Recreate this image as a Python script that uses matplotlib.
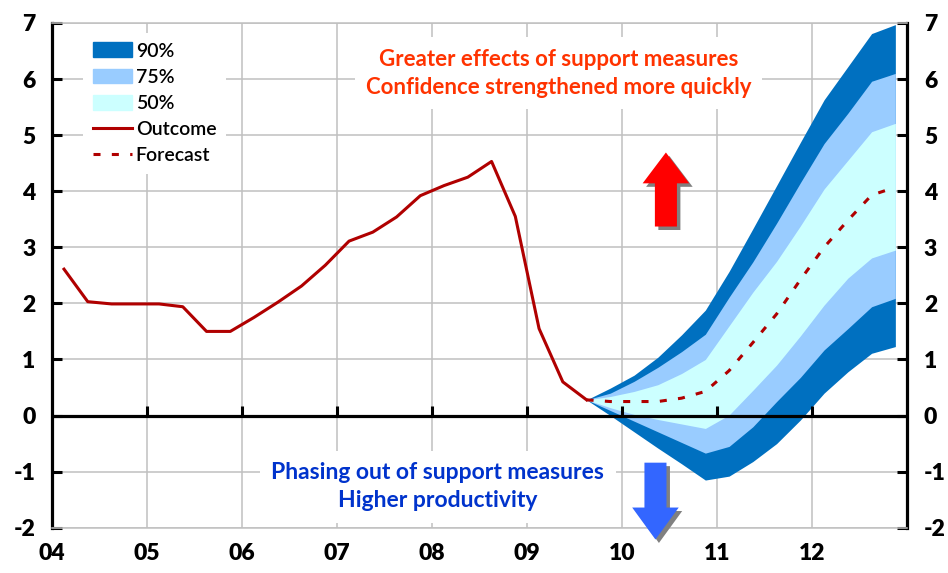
import numpy as np
from matplotlib import pyplot as plt
from matplotlib.patches import Patch, Polygon
from matplotlib.lines import Line2D
import matplotlib.patheffects as pe

plt.rcParams['font.family'] = ['Lato', 'DejaVu Sans']
plt.rcParams['axes.unicode_minus'] = False

# quarterly values, first outcome quarter is 2004Q1, forecast starts 2009Q3
outcome = [2.61, 2.03, 1.99, 1.99, 1.99, 1.94, 1.50, 1.50,
           1.75, 2.02, 2.31, 2.68, 3.11, 3.27, 3.54, 3.92,
           4.10, 4.25, 4.53, 3.55, 1.55, 0.60, 0.28]
forecast = [0.28, 0.25, 0.25, 0.25, 0.31, 0.43, 0.80, 1.30, 1.81, 2.42, 3.00, 3.48, 3.93, 4.07]
upper_90 = [0.28, 0.49, 0.72, 1.04, 1.44, 1.88, 2.57, 3.33, 4.10, 4.87, 5.63, 6.22, 6.81, 6.97]
upper_75 = [0.28, 0.40, 0.61, 0.86, 1.14, 1.45, 2.11, 2.74, 3.43, 4.15, 4.85, 5.39, 5.96, 6.10]
upper_50 = [0.28, 0.34, 0.43, 0.55, 0.75, 1.00, 1.60, 2.20, 2.75, 3.38, 4.04, 4.55, 5.06, 5.21]
lower_50 = [0.28, 0.14, 0.02, -0.07, -0.15, -0.23, 0.01, 0.45, 0.90, 1.42, 1.97, 2.45, 2.81, 2.95]
lower_75 = [0.28, 0.09, -0.10, -0.29, -0.48, -0.67, -0.55, -0.20, 0.25, 0.68, 1.17, 1.55, 1.94, 2.09]
lower_90 = [0.28, 0.00, -0.29, -0.58, -0.86, -1.15, -1.08, -0.82, -0.50, -0.08, 0.40, 0.78, 1.11, 1.23]

years = list(range(2004, 2013))
year_labels = ['04', '05', '06', '07', '08', '09', '10', '11', '12']
y_ticks = list(range(-2, 8))

DARK = '#0070C0'
MID = '#99CCFF'
LIGHT = '#CCFFFF'
LINE = '#B00000'


def block_arrow(ax, x, tail, base, tip, color):
    sw, hw = 0.116, 0.245
    pts = [(x - sw, tail), (x - sw, base), (x - hw, base), (x, tip),
           (x + hw, base), (x + sw, base), (x + sw, tail)]
    arrow = Polygon(pts, closed=True, facecolor=color, edgecolor='none',
                    zorder=6, clip_on=False)
    arrow.set_path_effects([pe.withSimplePatchShadow(offset=(2.5, -2.5),
                                                     shadow_rgbFace='#808080', alpha=1)])
    ax.add_patch(arrow)


def main():
    x_out = 2004 + (np.arange(len(outcome)) + 0.5) / 4
    x_fc = 2004 + (np.arange(len(forecast)) + len(outcome) - 1 + 0.5) / 4

    fig, ax = plt.subplots(figsize=(9.48, 5.73), dpi=100)
    fig.subplots_adjust(left=0.055, right=0.957, bottom=0.079, top=0.96)

    ax.fill_between(x_fc, lower_90, upper_90, color=DARK, lw=0, zorder=2)
    ax.fill_between(x_fc, lower_75, upper_75, color=MID, lw=0, zorder=2)
    ax.fill_between(x_fc, lower_50, upper_50, color=LIGHT, lw=0, zorder=2)

    ax.axhline(0, color='black', lw=2.3, zorder=3)
    ax.plot(years[1:], [0] * len(years[1:]), ls='none', marker=2, ms=7, mew=2.2,
            color='black', zorder=3)

    ax.plot(x_fc, forecast, color=LINE, lw=2.2, dashes=(2.3, 3.7), zorder=4)
    ax.plot(x_out, outcome, color=LINE, lw=2.2, zorder=4)

    ax.set_xlim(2004, 2013)
    ax.set_ylim(-2, 7)
    ax.set_xticks(years)
    ax.set_xticklabels(year_labels)
    ax.set_yticks(y_ticks)
    ax.set_axisbelow(True)
    ax.grid(color='#C0C0C0', lw=1.1, zorder=0)

    for side in ['left', 'right']:
        ax.spines[side].set_linewidth(2.3)
        ax.spines[side].set_color('black')
    for side in ['top', 'bottom']:
        ax.spines[side].set_linewidth(1.1)
        ax.spines[side].set_color('#C0C0C0')

    ax.tick_params(axis='x', length=0, pad=11, labelsize=16.5)
    ax.tick_params(axis='y', direction='in', length=7, width=2.2, left=True, right=True,
                   labelleft=True, labelright=True, labelsize=16.5, pad=12)
    for lab in ax.get_xticklabels():
        lab.set_fontweight('heavy')
    for t in ax.yaxis.get_major_ticks():
        t.label1.set_fontweight('heavy')
        t.label2.set_fontweight('heavy')

    handles = [Patch(color=DARK), Patch(color=MID), Patch(color=LIGHT),
               Line2D([], [], color=LINE, lw=2.2),
               Line2D([], [], color=LINE, lw=2.2, dashes=(2.3, 3.7))]
    labels = ['90%', '75%', '50%', 'Outcome', 'Forecast']
    leg = ax.legend(handles, labels, loc='upper left', bbox_to_anchor=(0.025, 1.0),
                    prop={'size': 14, 'weight': 'semibold'}, frameon=True,
                    fancybox=False, edgecolor='none', framealpha=1,
                    handlelength=2.0, handleheight=0.8, handletextpad=0.2,
                    labelspacing=0.46, borderpad=0.5)
    leg.set_zorder(5)

    ax.text(2009.33, 6.1, 'Greater effects of support measures\nConfidence strengthened more quickly',
            ha='center', va='center', multialignment='center', color='#FF3300',
            fontsize=16, fontweight='bold', linespacing=1.45, zorder=5,
            bbox=dict(facecolor='white', edgecolor='none', boxstyle='square,pad=0.5'))
    ax.text(2008.06, -1.27, 'Phasing out of support measures\nHigher productivity',
            ha='center', va='center', multialignment='center', color='#0033CC',
            fontsize=16.5, fontweight='bold', linespacing=1.4, zorder=5,
            bbox=dict(facecolor='white', edgecolor='none', boxstyle='square,pad=0.5'))

    block_arrow(ax, 2010.46, 3.37, 4.14, 4.69, '#FF0000')
    block_arrow(ax, 2010.35, -0.84, -1.64, -2.21, '#3366FF')

    fig.savefig('out.png', dpi=100)


if __name__ == '__main__':
    main()
